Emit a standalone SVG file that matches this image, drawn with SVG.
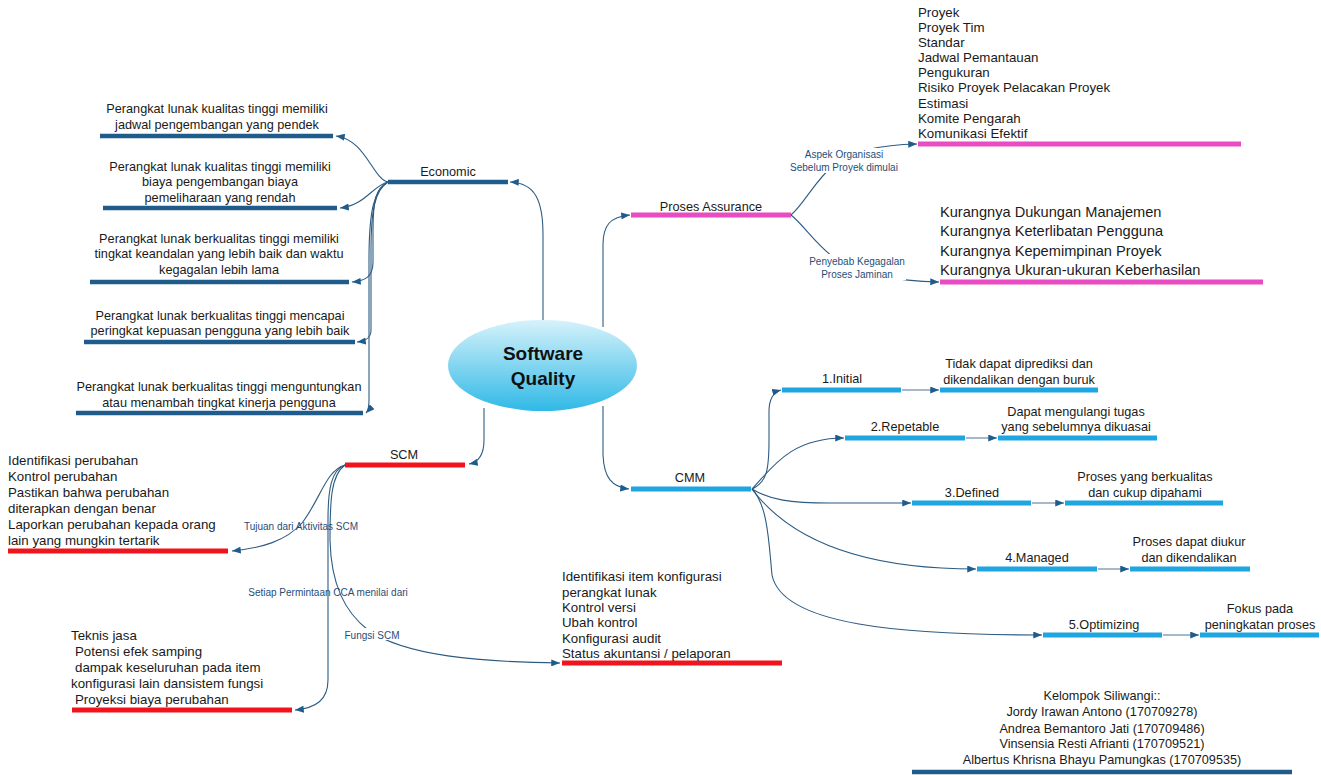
<svg xmlns="http://www.w3.org/2000/svg" width="1321" height="775" viewBox="0 0 1321 775">
<defs>
<linearGradient id="eg" x1="0" y1="0" x2="0" y2="1">
<stop offset="0" stop-color="#d6f2fb"/>
<stop offset="1" stop-color="#30b9e6"/>
</linearGradient>
<marker id="ah" viewBox="0 0 10 8" refX="10" refY="4" markerWidth="9" markerHeight="7" markerUnits="userSpaceOnUse" orient="auto">
<path d="M0,0 L10,4 L0,8 z" fill="#1f5c8c"/>
</marker>
</defs>
<style>
text{font-family:"Liberation Sans",Arial,sans-serif;fill:#1a1a1a;}
.t12{font-size:12.7px;}
.t13{font-size:13.3px;}
.t15{font-size:14.6px;}
.c{text-anchor:middle;}
.lbl{font-size:10px;fill:#1f4e79;text-anchor:middle;}
.con{fill:none;stroke:#2d5b82;stroke-width:1.1;marker-end:url(#ah);}
.thin{fill:none;stroke:#8aa2b6;stroke-width:1.5;marker-end:url(#ah);}
.bd{stroke:#1f5c8c;stroke-width:4.5;}
.br{stroke:#f2141c;stroke-width:5;}
.bp{stroke:#e94cc2;stroke-width:5;}
.bl{stroke:#1ea6e2;stroke-width:5;}
.bg{fill:#ffffff;}
</style>
<rect width="1321" height="775" fill="#ffffff"/>

<g id="connectors">
<path class="con" d="M543,321 L543,235 C543,200 535,183 510,182"/>
<path class="con" d="M484,408 L484,440 C484,455 479,462 469,464"/>
<path class="con" d="M603,327 L603,245 C603,225 610,217 630,215"/>
<path class="con" d="M603,406 L603,455 C604,478 612,487 629,489"/>
<path class="con" d="M388,182 C372,178 366,140 336,136"/>
<path class="con" d="M388,182 C372,186 366,205 340,208"/>
<path class="con" d="M388,182 C376,188 373,200 373,230 L373,262 C373,276 366,281 352,282"/>
<path class="con" d="M388,182 C375,190 371,210 371,250 L371,330 C371,338 366,341 357,342"/>
<path class="con" d="M388,182 C374,190 369,210 369,260 L369,400 C369,408 368,411 366,413"/>
<path class="con" d="M345,465 C326,470 320,500 302,523 C286,541 262,548 232,551"/>
<path class="con" d="M345,465 C331,470 328,490 328,520 L328,680 C328,700 316,708 295,710"/>
<path class="con" d="M345,465 C331,475 330,500 330,540 C331,585 345,612 368,630 C405,656 480,662 560,663"/>
<path class="con" d="M791,215 C805,203 815,180 835,164 C855,150 880,145 917,144"/>
<path class="con" d="M791,215 C805,226 818,248 840,262 C865,276 900,281 939,282"/>
<path class="con" d="M752,489 C767,482 769,470 769,440 L769,412 C769,398 774,392 781,390"/>
<path class="con" d="M752,489 C772,468 790,438 844,438"/>
<path class="con" d="M752,489 C770,500 790,503 830,503 L911,503"/>
<path class="con" d="M752,489 C790,540 860,569 976,569"/>
<path class="con" d="M752,489 C768,505 769,545 772,575 C782,625 900,635 1042,635"/>
<path class="thin" d="M902,390 L939,390"/>
<path class="thin" d="M966,438 L997,438"/>
<path class="thin" d="M1032,503 L1064,503"/>
<path class="thin" d="M1098,569 L1129,569"/>
<path class="thin" d="M1163,635 L1199,635"/>
</g>

<g id="edge-labels">
<rect class="bg" x="795" y="148" width="100" height="25"/>
<text class="lbl" x="844" y="157.5">Aspek Organisasi</text>
<text class="lbl" x="844" y="170.5">Sebelum Proyek dimulai</text>
<rect class="bg" x="808" y="254" width="98" height="26"/>
<text class="lbl" x="857" y="264.5">Penyebab Kegagalan</text>
<text class="lbl" x="857" y="277.5">Proses Jaminan</text>
<text class="lbl" x="301" y="529.5">Tujuan dari Aktivitas SCM</text>
<text class="lbl" x="328" y="595.5">Setiap Permintaan CCA menilai dari</text>
<rect class="bg" x="344" y="628" width="56" height="12"/>
<text class="lbl" x="372" y="638.5">Fungsi SCM</text>
</g>

<g id="center">
<ellipse cx="542.5" cy="365.5" rx="94.5" ry="45.5" fill="url(#eg)"/>
<text x="543" y="360" text-anchor="middle" style="font-size:19px;font-weight:bold;fill:#111">Software</text>
<text x="543" y="385" text-anchor="middle" style="font-size:19px;font-weight:bold;fill:#111">Quality</text>
</g>

<g id="economic">
<line class="bd" x1="388" y1="182" x2="508" y2="182"/>
<text class="t12 c" x="448" y="176">Economic</text>
</g>
<g id="eco-1">
<line class="bd" x1="100" y1="136" x2="333" y2="136"/>
<text class="t12 c" x="217" y="113">Perangkat lunak kualitas tinggi memiliki</text>
<text class="t12 c" x="217" y="129">jadwal pengembangan yang pendek</text>
</g>
<g id="eco-2">
<line class="bd" x1="103" y1="208" x2="337" y2="208"/>
<text class="t12 c" x="220" y="171">Perangkat lunak kualitas tinggi memiliki</text>
<text class="t12 c" x="220" y="186">biaya pengembangan biaya</text>
<text class="t12 c" x="220" y="202">pemeliharaan yang rendah</text>
</g>
<g id="eco-3">
<line class="bd" x1="90" y1="282" x2="349" y2="282"/>
<text class="t12 c" x="219" y="243">Perangkat lunak berkualitas tinggi memiliki</text>
<text class="t12 c" x="219" y="258">tingkat keandalan yang lebih baik dan waktu</text>
<text class="t12 c" x="219" y="274">kegagalan lebih lama</text>
</g>
<g id="eco-4">
<line class="bd" x1="84" y1="342" x2="355" y2="342"/>
<text class="t12 c" x="220" y="320">Perangkat lunak berkualitas tinggi mencapai</text>
<text class="t12 c" x="220" y="335">peringkat kepuasan pengguna yang lebih baik</text>
</g>
<g id="eco-5">
<line class="bd" x1="76" y1="413" x2="363" y2="413"/>
<text class="t12 c" x="219" y="391">Perangkat lunak berkualitas tinggi menguntungkan</text>
<text class="t12 c" x="219" y="407">atau menambah tingkat kinerja pengguna</text>
</g>

<g id="scm">
<line class="br" x1="345" y1="465" x2="465" y2="465"/>
<text class="t12 c" x="404" y="459">SCM</text>
</g>
<g id="scm-tujuan">
<line class="br" x1="8" y1="551" x2="228" y2="551"/>
<text class="t13" x="8" y="465">Identifikasi perubahan</text>
<text class="t13" x="8" y="481">Kontrol perubahan</text>
<text class="t13" x="8" y="497">Pastikan bahwa perubahan</text>
<text class="t13" x="8" y="513">diterapkan dengan benar</text>
<text class="t13" x="8" y="529">Laporkan perubahan kepada orang</text>
<text class="t13" x="8" y="545">lain yang mungkin tertarik</text>
</g>
<g id="scm-cca">
<line class="br" x1="72" y1="710" x2="292" y2="710"/>
<text class="t13" x="71" y="640">Teknis jasa</text>
<text class="t13" x="75" y="656">Potensi efek samping</text>
<text class="t13" x="75" y="672">dampak keseluruhan pada item</text>
<text class="t13" x="71" y="688">konfigurasi lain dansistem fungsi</text>
<text class="t13" x="75" y="704">Proyeksi biaya perubahan</text>
</g>
<g id="scm-fungsi">
<line class="br" x1="562" y1="663" x2="782" y2="663"/>
<text class="t13" x="562" y="581">Identifikasi item konfigurasi</text>
<text class="t13" x="562" y="597">perangkat lunak</text>
<text class="t13" x="562" y="612">Kontrol versi</text>
<text class="t13" x="562" y="627">Ubah kontrol</text>
<text class="t13" x="562" y="643">Konfigurasi audit</text>
<text class="t13" x="562" y="658">Status akuntansi / pelaporan</text>
</g>

<g id="proses-assurance">
<line class="bp" x1="631" y1="215" x2="791" y2="215"/>
<text class="t12 c" x="711" y="211">Proses Assurance</text>
</g>
<g id="pa-aspek">
<line class="bp" x1="918" y1="144" x2="1241" y2="144"/>
<text class="t13" x="918" y="17">Proyek</text>
<text class="t13" x="918" y="32">Proyek Tim</text>
<text class="t13" x="918" y="47">Standar</text>
<text class="t13" x="918" y="62">Jadwal Pemantauan</text>
<text class="t13" x="918" y="77">Pengukuran</text>
<text class="t13" x="918" y="92">Risiko Proyek Pelacakan Proyek</text>
<text class="t13" x="918" y="108">Estimasi</text>
<text class="t13" x="918" y="123">Komite Pengarah</text>
<text class="t13" x="918" y="138">Komunikasi Efektif</text>
</g>
<g id="pa-penyebab">
<line class="bp" x1="940" y1="282" x2="1263" y2="282"/>
<text class="t15" x="940" y="217">Kurangnya Dukungan Manajemen</text>
<text class="t15" x="940" y="236">Kurangnya Keterlibatan Pengguna</text>
<text class="t15" x="940" y="256">Kurangnya Kepemimpinan Proyek</text>
<text class="t15" x="940" y="275">Kurangnya Ukuran-ukuran Keberhasilan</text>
</g>

<g id="cmm">
<line class="bl" x1="631" y1="489" x2="751" y2="489"/>
<text class="t12 c" x="690" y="482">CMM</text>
</g>
<g id="cmm-1">
<line class="bl" x1="782" y1="390" x2="901" y2="390"/>
<text class="t12 c" x="842" y="383">1.Initial</text>
</g>
<g id="cmm-1d">
<line class="bl" x1="940" y1="390" x2="1098" y2="390"/>
<text class="t12 c" x="1019" y="368">Tidak dapat diprediksi dan</text>
<text class="t12 c" x="1019" y="384">dikendalikan dengan buruk</text>
</g>
<g id="cmm-2">
<line class="bl" x1="845" y1="438" x2="965" y2="438"/>
<text class="t12 c" x="905" y="431">2.Repetable</text>
</g>
<g id="cmm-2d">
<line class="bl" x1="998" y1="438" x2="1157" y2="438"/>
<text class="t12 c" x="1076" y="416">Dapat mengulangi tugas</text>
<text class="t12 c" x="1076" y="431">yang sebelumnya dikuasai</text>
</g>
<g id="cmm-3">
<line class="bl" x1="912" y1="503" x2="1031" y2="503"/>
<text class="t12 c" x="972" y="497">3.Defined</text>
</g>
<g id="cmm-3d">
<line class="bl" x1="1065" y1="503" x2="1223" y2="503"/>
<text class="t12 c" x="1145" y="481">Proses yang berkualitas</text>
<text class="t12 c" x="1145" y="497">dan cukup dipahami</text>
</g>
<g id="cmm-4">
<line class="bl" x1="977" y1="569" x2="1097" y2="569"/>
<text class="t12 c" x="1037" y="562">4.Managed</text>
</g>
<g id="cmm-4d">
<line class="bl" x1="1130" y1="569" x2="1250" y2="569"/>
<text class="t12 c" x="1189" y="546">Proses dapat diukur</text>
<text class="t12 c" x="1189" y="562">dan dikendalikan</text>
</g>
<g id="cmm-5">
<line class="bl" x1="1043" y1="635" x2="1162" y2="635"/>
<text class="t12 c" x="1104" y="629">5.Optimizing</text>
</g>
<g id="cmm-5d">
<line class="bl" x1="1200" y1="635" x2="1319" y2="635"/>
<text class="t12 c" x="1260" y="613">Fokus pada</text>
<text class="t12 c" x="1260" y="629">peningkatan proses</text>
</g>

<g id="kelompok">
<line class="bd" x1="912" y1="772" x2="1292" y2="772"/>
<text class="t12 c" x="1102" y="700">Kelompok Siliwangi::</text>
<text class="t12 c" x="1102" y="716">Jordy Irawan Antono (170709278)</text>
<text class="t12 c" x="1102" y="733">Andrea Bemantoro Jati (170709486)</text>
<text class="t12 c" x="1102" y="748">Vinsensia Resti Afrianti (170709521)</text>
<text class="t12 c" x="1102" y="764">Albertus Khrisna Bhayu Pamungkas (170709535)</text>
</g>
</svg>
